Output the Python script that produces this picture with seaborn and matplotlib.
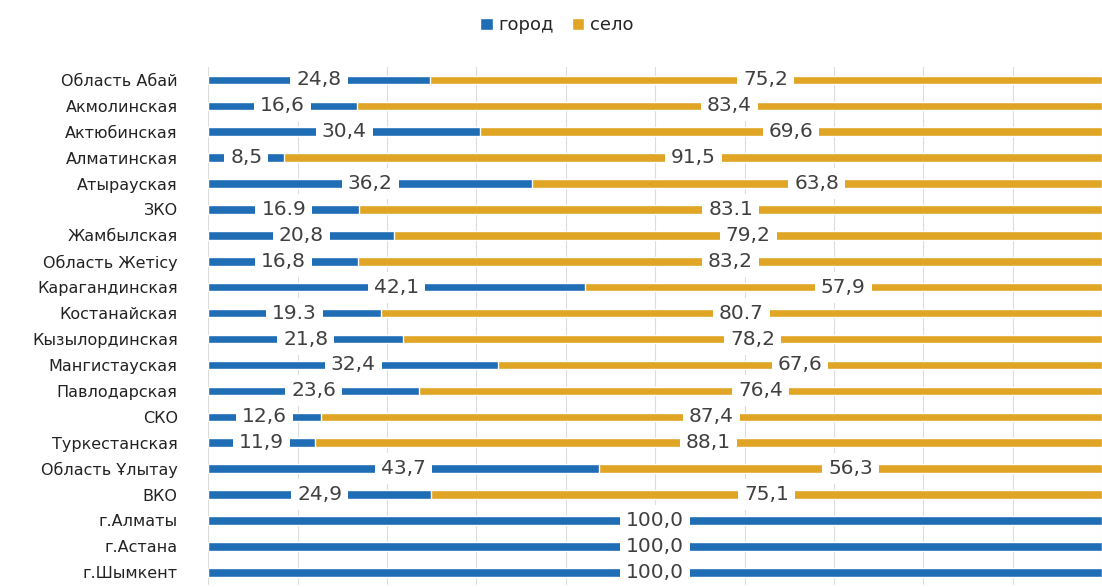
import numpy as np
import pandas as pd
import matplotlib
matplotlib.use('Agg')
import matplotlib.pyplot as plt
import seaborn as sns

regions = ['Область Абай', 'Акмолинская', 'Актюбинская', 'Алматинская', 'Атырауская',
           'ЗКО', 'Жамбылская', 'Область Жетісу', 'Карагандинская', 'Костанайская',
           'Кызылординская', 'Мангистауская', 'Павлодарская', 'СКО', 'Туркестанская',
           'Область Ұлытау', 'ВКО', 'г.Алматы', 'г.Астана', 'г.Шымкент']
gorod = [24.8, 16.6, 30.4, 8.5, 36.2, 16.9, 20.8, 16.8, 42.1, 19.3,
         21.8, 32.4, 23.6, 12.6, 11.9, 43.7, 24.9, 100.0, 100.0, 100.0]
selo = [75.2, 83.4, 69.6, 91.5, 63.8, 83.1, 79.2, 83.2, 57.9, 80.7,
        78.2, 67.6, 76.4, 87.4, 88.1, 56.3, 75.1, 0.0, 0.0, 0.0]
# decimal separator as printed in the source (some rows use a dot)
sep = [',', ',', ',', ',', ',', '.', ',', ',', ',', '.',
       ',', ',', ',', ',', ',', ',', ',', ',', ',', ',']

BLUE = '#1F6DB5'
GOLD = '#E0A524'

df = pd.DataFrame({'region': regions, 'город': gorod, 'село': selo})
df['total'] = df['город'] + df['село']

sns.set_style('white')
plt.rcParams['font.family'] = ['Verdana', 'DejaVu Sans']

fig = plt.figure(figsize=(11.02, 5.87), dpi=100)
ax = fig.add_axes([0.189, 0.003, 0.811, 0.883])

sns.barplot(data=df, y='region', x='total', color=GOLD, width=0.33,
            orient='h', ax=ax, label='село', saturation=1)
sns.barplot(data=df, y='region', x='город', color=BLUE, width=0.33,
            orient='h', ax=ax, label='город', saturation=1)
if ax.get_legend() is not None:
    ax.get_legend().remove()

ax.set_xlim(0, 100)
ax.set_ylim(len(regions) - 0.5, -0.5)
ax.set_xticks(np.arange(0, 101, 10))
ax.set_xticklabels([])
ax.tick_params(axis='x', length=0)
ax.tick_params(axis='y', length=0, labelsize=11.5, pad=22, colors='#222222')
ax.grid(axis='x', color='#dcdcdc', linewidth=0.8)
ax.set_axisbelow(True)
ax.set_xlabel('')
ax.set_ylabel('')
for s in ax.spines.values():
    s.set_visible(False)

box = dict(boxstyle='square,pad=0.3', facecolor='white', edgecolor='none')
for i, (g, s, sp) in enumerate(zip(gorod, selo, sep)):
    if g > 0:
        ax.text(g / 2, i, f'{g:.1f}'.replace('.', sp), ha='center', va='center',
                fontsize=14.5, color='#404040', bbox=box)
    if s > 0:
        ax.text(g + s / 2, i, f'{s:.1f}'.replace('.', sp), ha='center', va='center',
                fontsize=14.5, color='#404040', bbox=box)

handles, labels = ax.get_legend_handles_labels()
order = [labels.index('город'), labels.index('село')]
fig.legend([handles[k] for k in order], [labels[k] for k in order],
           loc='center', bbox_to_anchor=(0.505, 0.957), ncol=2, frameon=False,
           fontsize=13, handlelength=0.7, handleheight=0.7, handletextpad=0.3,
           columnspacing=1.0)

fig.savefig('out.png', dpi=100)
